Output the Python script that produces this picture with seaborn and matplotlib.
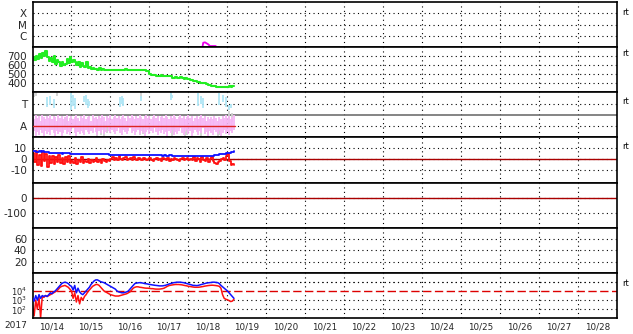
import numpy as np
import pandas as pd
import matplotlib
matplotlib.use("Agg")
import matplotlib.pyplot as plt
import seaborn as sns

sns.set_theme(style="white")
plt.rcParams['font.family'] = ['DejaVu Sans']

# ---------------- data ----------------
DAY_LABELS = ['10/14', '10/15', '10/16', '10/17', '10/18', '10/19', '10/20', '10/21',
              '10/22', '10/23', '10/24', '10/25', '10/26', '10/27', '10/28']
YEAR_LABEL = '2017'

XRAY_TICKS = [1e-6, 1e-5, 1e-4]
XRAY_LABELS = ['C', 'M', 'X']
xray_hours = [104.5, 105.1, 106.2, 108.2, 109.2, 112.8]
xray_flux = [7.9e-8, 2.45e-7, 2.66e-7, 1.78e-7, 1.26e-7, 1.26e-7]

# hourly samples, hour 0 = 10/14 00:00
sample_hours = list(range(125))

speed = [690, 660, 700, 670,
         720, 680, 740, 700, 760, 690, 650,
         680, 630, 700, 610, 660, 640,
         590, 640, 600, 610,
         670, 620, 690, 640, 660, 630,
         600, 630, 580, 620,
         590, 575, 630, 565, 580, 560,
         570, 555, 560, 550, 565, 548, 555, 545, 552, 548, 543,
         548, 545, 550, 552, 546, 548, 544, 550, 547, 553, 549, 545, 548, 551, 547, 544,
         549, 552, 546, 548, 545, 550,
         540, 538,
         505, 495, 490,
         488, 482, 485, 480, 487, 478, 483, 480, 476, 482, 478,
         462, 458, 465, 460, 455, 470, 462, 450, 458, 448, 452,
         440, 432, 425, 420,
         415, 410, 405, 400, 402, 398,
         390, 385, 378, 372, 368, 365,
         360, 358, 362, 356, 355, 358, 360, 357,
         368, 360, 372, 366]

pink_lo = [0.3, 0.6, 0.1, 0.5, 0.2, 0.7, 0.4, 0.1, 0.6, 0.3,
           0.5, 0.2, 0.7, 0.4, 0.1, 0.6, 0.3, 0.5, 0.1, 0.4,
           0.7, 0.3, 0.5, 0.2, 0.6, 0.8, 0.4, 0.1, 0.5, 0.3,
           0.6, 0.4, 0.2, 0.7, 0.5, 0.3, 0.6, 0.4, 0.8, 0.5,
           0.2, 0.6, 0.4, 0.7, 0.3, 0.5, 0.9, 0.6, 0.4, 0.7,
           0.5, 0.3, 0.6, 0.8, 0.4, 0.2, 0.7, 0.5, 0.3, 0.6,
           0.8, 0.4, 0.6, 0.2, 0.5, 0.7, 0.3, 0.6, 0.4, 0.1,
           0.5, 0.7, 0.3, 0.6, 0.4, 0.8, 0.5, 0.2, 0.6, 0.4,
           0.7, 0.3, 0.5, 0.1, 0.6, 0.4, 0.7, 0.2, 0.5, 0.3,
           0.6, 0.8, 0.4, 0.2, 0.5, 0.7, 0.3, 0.6, 0.1, 0.4,
           0.7, 0.5, 0.2, 0.6, 0.4, 0.8, 0.3, 0.5, 0.1, 0.6,
           0.4, 0.2, 0.7, 0.5, 0.3, 0.6, 0.1, 0.4, 0.7, 0.3,
           0.5, 0.2, 0.6, 0.4, 0.7]
pink_hi = [1.8, 1.6, 2.0, 1.7, 1.9, 1.5, 2.0, 1.8, 1.6, 1.9,
           1.7, 2.0, 1.6, 1.9, 1.8, 1.5, 2.0, 1.7, 1.9, 1.6,
           1.8, 2.0, 1.5, 1.7, 1.9, 1.6, 1.8, 2.0, 1.7, 1.5,
           1.9, 1.7, 2.0, 1.6, 1.8, 1.9, 1.5, 2.0, 1.7, 1.8,
           1.6, 1.9, 1.7, 2.0, 1.8, 1.5, 1.9, 1.7, 2.0, 1.6,
           1.8, 2.0, 1.7, 1.9, 1.6, 1.8, 2.0, 1.7, 1.5, 1.9,
           1.7, 2.0, 1.8, 1.6, 1.9, 1.7, 2.0, 1.8, 1.6, 1.9,
           2.0, 1.7, 1.9, 1.6, 1.8, 2.0, 1.7, 1.9, 1.5, 1.8,
           1.9, 1.7, 2.0, 1.8, 1.6, 1.9, 1.7, 2.0, 1.8, 1.6,
           1.8, 2.0, 1.7, 1.9, 1.6, 1.8, 2.0, 1.7, 1.9, 1.5,
           1.7, 1.9, 1.6, 1.8, 2.0, 1.7, 1.9, 1.5, 1.8, 1.6,
           1.8, 1.6, 1.9, 1.7, 1.5, 1.8, 1.6, 1.9, 1.7, 2.0,
           1.7, 1.9, 1.6, 1.8, 2.0]

cyan_hours = [9, 11, 13, 24, 25, 26, 32, 33, 34, 35, 54, 55, 56, 67, 85, 86, 102, 104, 105, 115, 117, 119, 121, 122]
cyan_lo = [2.7, 2.9, 2.6, 2.4, 2.8, 2.5, 3.1, 2.9, 2.6, 2.8, 2.7, 3.0, 2.8, 3.2, 3.3, 3.5, 2.8, 3.0, 2.6, 2.9, 3.1, 2.7, 2.4, 2.6]
cyan_hi = [3.6, 3.7, 3.4, 3.9, 3.8, 3.5, 3.7, 3.8, 3.4, 3.2, 3.6, 3.7, 3.5, 3.7, 3.9, 3.8, 3.9, 3.7, 3.5, 3.9, 3.8, 3.6, 2.9, 3.0]

gray_hours = [1, 2, 15, 20, 21, 40, 42, 44, 46, 66, 67, 68, 85, 86, 87, 94, 95, 104, 106, 108, 114, 115, 121, 123]
gray_lo = [3.6, 3.7, 3.7, 1.0, 1.2, 0.0, 0.2, 0.1, 0.4, 0.2, 3.5, 0.3, 3.6, 0.1, 0.3, 0.0, 0.2, 0.1, 0.3, 0.2, 0.0, 0.2, 1.2, 1.4]
gray_hi = [4.0, 4.0, 4.0, 1.8, 1.7, 1.6, 1.2, 1.4, 0.9, 1.3, 4.0, 1.0, 4.0, 0.9, 1.1, 0.6, 0.8, 0.9, 1.0, 0.8, 0.5, 0.7, 2.3, 2.2]

bt = [8.0, 7.5, 7.0, 6.5, 7.2, 6.8, 7.5, 6.5, 6.2, 6.8, 6.0,
      5.8, 5.6, 5.5, 5.8, 5.4, 5.6, 5.5, 5.2, 5.4, 5.6, 5.3, 5.5, 5.2,
      5.0, 5.2, 4.9, 5.1, 5.0, 4.8, 5.0, 5.2, 4.9, 5.0, 4.8, 5.0, 4.9, 4.7, 4.8, 4.6,
      4.7, 4.5, 4.6, 4.4, 4.5, 4.3, 4.4, 4.2,
      4.0, 3.9, 4.1, 3.8, 3.9, 3.7, 3.8, 3.6, 3.8, 3.7, 3.5, 3.6, 3.8, 3.7, 3.9, 4.0,
      3.8, 3.6, 3.7, 3.5, 3.6, 3.8, 3.7,
      3.8, 3.9, 4.0, 3.8, 3.6, 3.5, 3.4, 3.6, 3.5, 3.3, 3.4, 3.2, 3.3, 3.5, 3.4, 3.2,
      3.1, 3.3, 3.2, 3.0, 3.1, 3.3, 3.2, 3.0, 3.1, 3.2, 3.0,
      3.0, 2.9, 3.1, 3.0, 2.8, 3.0, 3.1, 2.9, 3.0, 3.2, 3.0, 2.9, 3.1, 3.3, 3.5, 3.8, 4.2,
      4.8, 5.0, 5.2, 5.0, 5.3, 5.5, 5.8,
      6.5, 7.0, 7.8]
bz = [6, -3, 8, -6, 4, -7, 7, -2, 5, -8, 3,
      -4, 3, -5, 2, -3, 4, -4, 1, -5, 2, -3, 3, -4,
      -2, -4, 1, -5, -1, -3, 2, -4, -2, -3, 0, -4, -1, -3, -2, 1, -3, -1, -4, 0, -2, -3, -1, -2,
      0, 2, -1, 1, -1, 3, 0, -1, 1, 2, -1, 0, 1, -1, 2, 0, -1, 1, 0, -1, 1, 0, -1,
      0, 1, -1, -2, 0, 1, -1, 0, -2, 1, 0, -1, 1, -2, 0, -1, 1, 0, -1, -2, 0, 1, -1, 0, 1, -1, 0,
      -1, 2, -2, 1, 0, -3, 2, -1, -2, 1, -3, 0, 2, -2, -4, -4.5, -3,
      -2, 0, 1, -1, 3, 5, -2,
      -6, -5, -5.5]

DST_TICKS = [-100, 0]
KP_TICKS = [20, 40, 60]
E_TICKS = [1e2, 1e3, 1e4]
E_LABELS = [r'$10^2$', r'$10^3$', r'$10^4$']
E_THRESHOLD = 1e4

e_blue_log = [3.3, 2.9, 3.5, 3.0, 3.6, 3.2, 3.5,
              3.4, 3.5, 3.4, 3.6,
              3.8, 3.7, 3.9, 4.0,
              4.2, 4.4, 4.6,
              4.8, 4.9, 4.95, 4.9,
              4.8, 4.6,
              4.5, 4.1, 4.6, 3.8, 4.3,
              3.9, 3.7, 3.6, 3.8,
              4.0, 4.2, 4.4,
              4.7, 4.9, 5.1,
              5.2, 5.2, 5.1,
              5.0, 4.95, 4.9, 4.8, 4.7, 4.6,
              4.5, 4.4, 4.3, 4.2,
              4.0, 3.9, 3.85, 3.8,
              3.8, 3.85, 3.9, 4.0,
              4.2, 4.4, 4.6, 4.8,
              4.85, 4.88, 4.9, 4.88, 4.85, 4.8, 4.78, 4.75,
              4.7, 4.68, 4.65, 4.62, 4.6, 4.58, 4.55, 4.55, 4.55, 4.58, 4.62, 4.68, 4.75,
              4.8, 4.85, 4.9, 4.92, 4.95, 4.95, 4.95, 4.92, 4.9, 4.85,
              4.8, 4.75, 4.7, 4.65, 4.6, 4.6, 4.58, 4.6, 4.65, 4.7, 4.75, 4.8,
              4.85, 4.88, 4.9, 4.92, 4.95, 4.95, 4.92, 4.9,
              4.8, 4.6, 4.45, 4.3, 4.15,
              4.0, 3.8, 3.6, 3.4, 3.2]
e_red_log = [2.5, 1.3, 3.0, 2.0, 3.3, 1.1, 3.4,
             3.3, 3.5, 3.4, 3.5,
             3.6, 3.7, 3.8, 3.9,
             4.0, 4.2, 4.4,
             4.5, 4.55, 4.6, 4.5,
             4.4, 4.2,
             4.0, 3.2, 3.8, 2.8, 3.5,
             2.6, 3.3, 3.0, 3.4,
             3.6, 3.9, 4.1,
             4.3, 4.5, 4.6,
             4.7, 4.7, 4.6,
             4.4, 4.2, 4.0, 3.9, 3.8, 3.7,
             3.6, 3.55, 3.5, 3.45,
             3.45, 3.45, 3.5, 3.55,
             3.6, 3.65, 3.7, 3.8,
             3.9, 4.1, 4.3, 4.4,
             4.45, 4.45, 4.4, 4.38, 4.35, 4.32, 4.3, 4.3,
             4.28, 4.25, 4.25, 4.22, 4.2, 4.2, 4.2, 4.22, 4.25, 4.3, 4.4, 4.5, 4.58,
             4.62, 4.65, 4.68, 4.7, 4.7, 4.7, 4.68, 4.66, 4.62, 4.58,
             4.55, 4.5, 4.48, 4.45, 4.42, 4.4, 4.4, 4.4, 4.42, 4.45, 4.48, 4.52,
             4.55, 4.58, 4.6, 4.62, 4.62, 4.6, 4.58, 4.55,
             4.5, 4.3, 3.6, 3.2, 3.1,
             3.05, 2.95, 2.85, 2.9, 3.1]

# ---------------- figure ----------------
W, H = 633, 334
fig = plt.figure(figsize=(W / 100, H / 100), dpi=100)
fig.patch.set_facecolor('white')

left_px, right_px = 32.5, 617.3
top_px, bottom_px = 2.0, 318.0
n_panels = 7
ph = (bottom_px - top_px) / n_panels
axes = []
for i in range(n_panels):
    y0 = top_px + i * ph
    ax = fig.add_axes([left_px / W, 1 - (y0 + ph) / H, (right_px - left_px) / W, ph / H])
    axes.append(ax)

GRID = dict(color='black', linewidth=0.8, linestyle=(0, (1, 3)))
days = np.arange(1, 15)
lbl_font = 7.5


def base(ax, yticks, ylabels, ylim, log=False):
    if log:
        ax.set_yscale('log')
    ax.set_xlim(0, 15)
    ax.set_ylim(*ylim)
    ax.set_facecolor('white')
    for s in ax.spines.values():
        s.set_color('black')
        s.set_linewidth(1.2)
    for d in days:
        ax.axvline(d, zorder=0.5, **GRID)
    for t in yticks:
        ax.axhline(t, zorder=0.5, **GRID)
    ax.set_yticks(yticks)
    ax.set_yticklabels(ylabels, fontsize=lbl_font)
    ax.yaxis.set_minor_locator(matplotlib.ticker.NullLocator())
    ax.tick_params(axis='y', length=0, pad=4, labelsize=lbl_font)
    ax.tick_params(axis='x', length=0)
    ax.set_xticks([])
    ax.set_xlabel('')
    ax.set_ylabel('')


def rt(ax, yfrac):
    ax.text(1.008, yfrac, 'rt', transform=ax.transAxes, fontsize=6,
            va='center', ha='left', color='black')


def hours_to_days(h):
    return np.asarray(h, dtype=float) / 24.0


t_hourly = hours_to_days(sample_hours)

# Panel 1: X-ray
ax = axes[0]
base(ax, XRAY_TICKS, XRAY_LABELS, (1e-7, 1e-3), log=True)
sns.lineplot(x=hours_to_days(xray_hours), y=xray_flux, ax=ax, color='#ee00ee',
             linewidth=1.3, estimator=None, sort=False, legend=False)
rt(ax, 0.76)

# Panel 2: solar wind speed
ax = axes[1]
base(ax, [400, 500, 600, 700], ['400', '500', '600', '700'], (300, 800))
sns.lineplot(x=t_hourly, y=speed, ax=ax, color='#22ee22', linewidth=1.5,
             estimator=None, sort=False, legend=False, drawstyle='steps-post')
rt(ax, 0.86)

# Panel 3: T / A streaks
ax = axes[2]
base(ax, [1, 3], ['A', 'T'], (0, 4))
ax.axhline(2, color='#707070', linewidth=1.2, zorder=1)
ax.vlines(hours_to_days(gray_hours), gray_lo, gray_hi, color='#d0d0d0', linewidth=1.3, zorder=1.5)
ax.vlines(t_hourly, pink_lo, pink_hi, color='#f6b4f4', linewidth=1.3, zorder=2)
ax.vlines(hours_to_days(cyan_hours), cyan_lo, cyan_hi, color='#b0e6f6', linewidth=1.3, zorder=2)
ax.plot([0, t_hourly[-1] + 0.03], [1, 1], color='#dd2222', linewidth=1.0, zorder=3)
rt(ax, 0.80)

# Panel 4: Bt / Bz
ax = axes[3]
base(ax, [-10, 0, 10], ['-10', '0', '10'], (-22.4, 20.5))
ax.axhline(0, color='#aa0000', linewidth=1.0, zorder=1)
sns.lineplot(x=t_hourly, y=bz, ax=ax, color='#ff1010', linewidth=1.3,
             estimator=None, sort=False, legend=False, drawstyle='steps-post', zorder=2)
sns.lineplot(x=t_hourly, y=bt, ax=ax, color='#1010ff', linewidth=1.3,
             estimator=None, sort=False, legend=False, drawstyle='steps-post', zorder=3)
rt(ax, 0.80)

# Panel 5: Dst (empty)
ax = axes[4]
base(ax, DST_TICKS, [str(v) for v in DST_TICKS], (-200, 100))
ax.axhline(0, color='#aa0000', linewidth=1.0, zorder=1)

# Panel 6: Kp (empty)
ax = axes[5]
base(ax, KP_TICKS, [str(v) for v in KP_TICKS], (0, 80))

# Panel 7: electrons
ax = axes[6]
base(ax, [1e2, 1e3, 1e5], ['', '', ''], (10 ** 1.07, 10 ** 5.96), log=True)
ax.set_yticks(E_TICKS)
ax.set_yticklabels(E_LABELS, fontsize=6.0)
ax.tick_params(axis='y', length=0, pad=4, labelsize=6.0)
ax.axhline(1e5, zorder=0.5, **GRID)
ax.axhline(E_THRESHOLD, color='#dd0000', linewidth=1.0, linestyle=(0, (6, 2.5)), zorder=1)
sns.lineplot(x=t_hourly, y=np.power(10.0, e_red_log), ax=ax, color='#ff1010', linewidth=1.1,
             estimator=None, sort=False, legend=False, zorder=2)
sns.lineplot(x=t_hourly, y=np.power(10.0, e_blue_log), ax=ax, color='#1010ff', linewidth=1.1,
             estimator=None, sort=False, legend=False, zorder=3)
rt(ax, 0.77)
ax.set_xticks(np.arange(len(DAY_LABELS)) + 0.5)
ax.set_xticklabels(DAY_LABELS, fontsize=6.3)
ax.tick_params(axis='x', length=0, pad=3, labelsize=6.3)

fig.text(15.5 / W, 1 - 325.5 / H, YEAR_LABEL, fontsize=6.5, ha='center', va='center')

fig.savefig('out.png', dpi=100, facecolor='white')
